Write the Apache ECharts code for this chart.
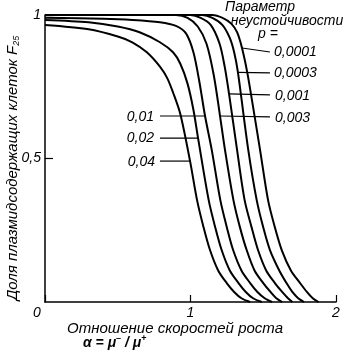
<!DOCTYPE html>
<html>
<head>
<meta charset="utf-8">
<script src="https://cdn.jsdelivr.net/npm/echarts@6/dist/echarts.min.js"></script>
<style>html,body{margin:0;padding:0;background:#fff;}#c{width:347px;height:357px;}</style>
</head>
<body>
<div id="c"></div>
<script>
// Parameter labels (p)
const paramLabels = ['0,0001', '0,0003', '0,001', '0,003', '0,01', '0,02', '0,04'];
// Curves: alpha (x) and F (y)
const a_0001 = [0, 1.15, 1.22, 1.28, 1.32, 1.354, 1.39, 1.43, 1.478, 1.533, 1.58, 1.627, 1.69, 1.753, 1.80, 1.84, 1.88];
const f_0001 = [1, 1, 0.99, 0.97, 0.94, 0.885, 0.80, 0.68, 0.53, 0.355, 0.26, 0.181, 0.11, 0.066, 0.035, 0.013, 0];
const a_0003 = [0, 1.08, 1.15, 1.22, 1.27, 1.30, 1.326, 1.397, 1.455, 1.50, 1.546, 1.61, 1.66, 1.70, 1.74, 1.78];
const f_0003 = [1, 1, 0.99, 0.965, 0.92, 0.87, 0.80, 0.53, 0.355, 0.26, 0.181, 0.11, 0.066, 0.035, 0.013, 0];
const a_001 = [0, 1.0, 1.07, 1.14, 1.2, 1.235, 1.265, 1.32, 1.372, 1.42, 1.464, 1.52, 1.58, 1.63, 1.67, 1.70];
const f_001 = [1, 1, 0.99, 0.965, 0.90, 0.82, 0.725, 0.53, 0.355, 0.26, 0.181, 0.11, 0.066, 0.035, 0.013, 0];
const a_003 = [0, 0.9, 0.98, 1.05, 1.11, 1.16, 1.203, 1.237, 1.295, 1.34, 1.386, 1.44, 1.5, 1.55, 1.59, 1.63];
const f_003 = [1, 1, 0.99, 0.96, 0.90, 0.79, 0.648, 0.53, 0.355, 0.26, 0.181, 0.11, 0.066, 0.035, 0.013, 0];
const a_01 = [0, 0.4, 0.6, 0.79, 0.9, 0.97, 1.02, 1.06, 1.10, 1.146, 1.205, 1.25, 1.293, 1.35, 1.41, 1.46, 1.51, 1.56];
const f_01 = [0.99, 0.987, 0.983, 0.975, 0.962, 0.935, 0.87, 0.77, 0.648, 0.53, 0.355, 0.26, 0.181, 0.11, 0.066, 0.035, 0.013, 0];
const a_02 = [0, 0.3, 0.5, 0.65, 0.79, 0.88, 0.93, 0.98, 1.02, 1.052, 1.125, 1.17, 1.214, 1.27, 1.33, 1.38, 1.43, 1.49];
const f_02 = [0.983, 0.975, 0.96, 0.94, 0.905, 0.87, 0.83, 0.76, 0.67, 0.571, 0.355, 0.26, 0.181, 0.11, 0.066, 0.035, 0.013, 0];
const a_04 = [0, 0.3, 0.5, 0.6, 0.7, 0.79, 0.84, 0.88, 0.93, 0.997, 1.045, 1.09, 1.134, 1.19, 1.249, 1.3, 1.35, 1.41];
const f_04 = [0.965, 0.95, 0.925, 0.905, 0.87, 0.82, 0.78, 0.73, 0.655, 0.491, 0.355, 0.26, 0.181, 0.11, 0.066, 0.035, 0.013, 0];
// Axis ticks
const xTicks = [0, 1, 2];
const yTickLabels = {0.5: '0,5', 1: '1'};
// Leader lines: [curve point, label-side point] in data units
const leaders = [
  [[1.354, 0.885], [1.546, 0.871]],
  [[1.326, 0.80], [1.546, 0.798]],
  [[1.265, 0.725], [1.546, 0.722]],
  [[1.203, 0.648], [1.546, 0.645]],
  [[0.79, 0.648], [1.10, 0.648]],
  [[0.79, 0.571], [1.052, 0.571]],
  [[0.79, 0.491], [0.997, 0.491]]
];

const FONT = '"Liberation Sans", Arial, sans-serif';
const curves = [[a_0001, f_0001], [a_0003, f_0003], [a_001, f_001], [a_003, f_003], [a_01, f_01], [a_02, f_02], [a_04, f_04]];
const series = curves.map((c, i) => ({
  type: 'line',
  name: paramLabels[i],
  data: c[0].map((x, j) => [x, c[1][j]]),
  smooth: 0.3,
  showSymbol: false,
  lineStyle: {color: '#000', width: 2},
  silent: true
}));

const chart = echarts.init(document.getElementById('c'), null, {renderer: 'canvas'});
chart.setOption({
  animation: false,
  backgroundColor: '#fff',
  grid: {left: 45, right: 11, top: 15, bottom: 55, containLabel: false, outerBoundsMode: 'none'},
  xAxis: {
    type: 'value', min: 0, max: 2, interval: 1,
    axisLine: {lineStyle: {color: '#000', width: 1.5}},
    axisTick: {show: true, inside: true, length: 7, lineStyle: {color: '#000', width: 1.2}},
    splitLine: {show: false},
    axisLabel: {
      color: '#000', fontStyle: 'italic', fontSize: 14, fontFamily: FONT, margin: 4,
      formatter: v => v === 0 ? '{z|0}' : String(v),
      rich: {z: {fontStyle: 'italic', fontSize: 14, fontFamily: FONT, color: '#000', padding: [0, 16, 0, 0]}}
    }
  },
  yAxis: {
    type: 'value', min: 0, max: 1, interval: 0.5,
    axisLine: {show: true, lineStyle: {color: '#000', width: 1.5}},
    axisTick: {show: true, inside: true, length: 8, lineStyle: {color: '#000', width: 1.2}},
    splitLine: {show: false},
    axisLabel: {
      color: '#000', fontStyle: 'italic', fontSize: 14, fontFamily: FONT, margin: 4,
      showMinLabel: false,
      formatter: v => yTickLabels[v] || ''
    }
  },
  series: series
});

function txt(t, x, y, align, size) {
  return {
    type: 'text', x: x, y: y, silent: true,
    style: {text: t, font: 'italic ' + (size || 14) + 'px ' + FONT, fill: '#000', align: align, textAlign: align, verticalAlign: 'middle', textVerticalAlign: 'middle'}
  };
}
const g = [];
leaders.forEach(l => {
  const p1 = chart.convertToPixel({gridIndex: 0}, l[0]);
  const p2 = chart.convertToPixel({gridIndex: 0}, l[1]);
  g.push({type: 'line', silent: true, shape: {x1: p1[0], y1: p1[1], x2: p2[0], y2: p2[1]}, style: {stroke: '#000', lineWidth: 1.2}});
});
g.push(txt('Параметр', 260, 7, 'center'));
g.push(txt('неустойчивости', 287, 21, 'center'));
g.push(txt('p =', 268, 34, 'center'));
g.push(txt(paramLabels[0], 274, 52, 'left'));
g.push(txt(paramLabels[1], 274, 73, 'left'));
g.push(txt(paramLabels[2], 275, 96, 'left'));
g.push(txt(paramLabels[3], 275, 118, 'left'));
g.push(txt(paramLabels[4], 154, 117, 'right'));
g.push(txt(paramLabels[5], 154, 138, 'right'));
g.push(txt(paramLabels[6], 155, 162, 'right'));
g.push(txt('Отношение скоростей роста', 175, 329, 'center', 15));
g.push({
  type: 'text', x: 83, y: 343, silent: true,
  style: {
    text: '{a|α = μ}{s|–}{a| / μ}{s|+}',
    align: 'left', textAlign: 'left', verticalAlign: 'middle', textVerticalAlign: 'middle',
    rich: {
      a: {font: 'italic bold 14px ' + FONT, fill: '#000', color: '#000'},
      s: {font: 'bold 9px ' + FONT, fill: '#000', color: '#000', padding: [0, 0, 8, 0]}
    }
  }
});
// Y-axis title, rotated
g.push({
  type: 'text', x: 13, y: 168, rotation: Math.PI / 2, silent: true,
  style: {
    text: '{a|Доля плазмидсодержащих клеток F}{s|25}',
    align: 'center', textAlign: 'center', verticalAlign: 'middle', textVerticalAlign: 'middle',
    rich: {
      a: {font: 'italic 15px ' + FONT, fill: '#000', color: '#000'},
      s: {font: 'italic 9px ' + FONT, fill: '#000', color: '#000', padding: [6, 0, 0, 0]}
    }
  }
});
chart.setOption({graphic: g});
</script>
</body>
</html>
